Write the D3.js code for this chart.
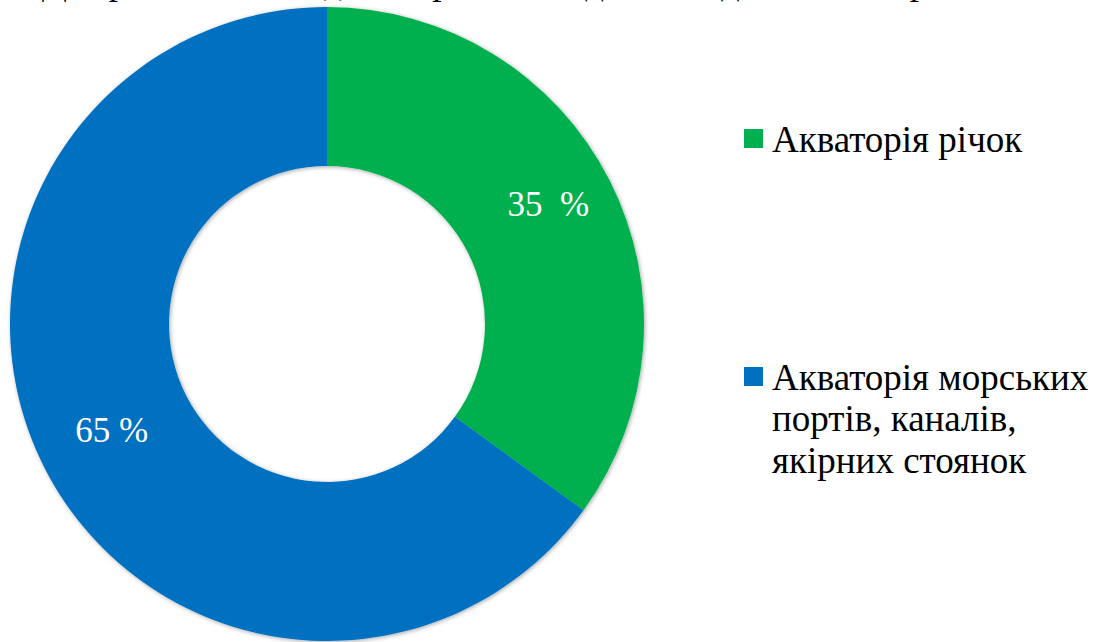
<!DOCTYPE html>
<html>
<head>
<meta charset="utf-8">
<script src="https://d3js.org/d3.v7.min.js"></script>
<style>
  body { margin: 0; }
  svg text, svg tspan { font-family: "Liberation Serif", "Times New Roman", Times, "Noto Serif", serif !important; }
</style>
</head>
<body>
<script>

    var categories = ["Акваторія річок", "Акваторія морських портів, каналів, якірних стоянок"];
    var legendLines = [["Акваторія річок"], ["Акваторія морських", "портів, каналів,", "якірних стоянок"]];
    var values = [35, 65];
    var labels = ["35  %", "65 %"];
    var colors = ["#00b050", "#0070c0"];

    var serif = "'Liberation Serif', 'Times New Roman', Times, 'Noto Serif', serif";

    drawDonut();

    function drawDonut(){

        var w = 1101;
        var h = 642;
        var cx = 327, cy = 324;
        var outerR = 317, innerR = 158;

        var svg = d3.select("body")
            .append("svg")
            .attr("width", w)
            .attr("height", h)
            .attr("font-family", "Liberation Serif");

        var defs = svg.append("defs");
        var f = defs.append("filter").attr("id", "shadow")
            .attr("x", "-10%").attr("y", "-10%").attr("width", "120%").attr("height", "120%");
        f.append("feDropShadow")
            .attr("dx", 1).attr("dy", 1).attr("stdDeviation", 2)
            .attr("flood-color", "#000").attr("flood-opacity", 0.35);

        var pie = d3.pie().sort(null).value(function(d){ return d; });
        var arc = d3.arc().innerRadius(innerR).outerRadius(outerR);
        var labelArc = d3.arc().innerRadius(245).outerRadius(245);

        var g = svg.append("g")
            .attr("transform", "translate(" + cx + "," + cy + ")");

        var arcs = pie(values);

        g.append("g")
            .attr("filter", "url(#shadow)")
            .selectAll("path")
            .data(arcs)
            .enter()
            .append("path")
            .attr("d", arc)
            .style("fill", function(d,i){ return colors[i]; });

        g.selectAll("text.lbl")
            .data(arcs)
            .enter()
            .append("text")
            .attr("class", "lbl")
            .attr("x", function(d){ return labelArc.centroid(d)[0] + 3; })
            .attr("y", function(d,i){ return labelArc.centroid(d)[1] + (i === 0 ? 3 : 7); })
            .attr("text-anchor", "middle")
            .style("font-family", serif)
            .style("fill", "#fff")
            .style("font-size", "35px")
            .style("white-space", "pre")
            .text(function(d,i){ return labels[i]; });

        var legendY = [129, 367];
        var legend = svg.selectAll("g.legend")
            .data(categories)
            .enter()
            .append("g")
            .attr("class", "legend")
            .attr("transform", function(d,i){ return "translate(744," + legendY[i] + ")"; });

        legend.append("rect")
            .attr("width", 19)
            .attr("height", 19)
            .style("fill", function(d,i){ return colors[i]; });

        legend.append("text")
            .attr("x", 28)
            .attr("y", 22.5)
            .style("font-family", serif)
            .style("font-size", "37px")
            .style("fill", "#000")
            .selectAll("tspan")
            .data(function(d,i){ return legendLines[i]; })
            .enter()
            .append("tspan")
            .attr("x", 28)
            .attr("dy", function(d,i){ return i === 0 ? 0 : 41.5; })
            .text(function(d){ return d; });

        // title, mostly cut off at the top of the picture
        var title = svg.append("text")
            .attr("x", 500)
            .attr("y", -6)
            .attr("text-anchor", "middle")
            .style("font-family", serif)
            .style("font-size", "37px");
        title.append("tspan").text("Діаграма 2. ");
        title.append("tspan").style("font-weight", "bold").text("Розподіл");
        title.append("tspan").text(" аварійних подій за видами акваторій");
    }

</script>
</body>
</html>
